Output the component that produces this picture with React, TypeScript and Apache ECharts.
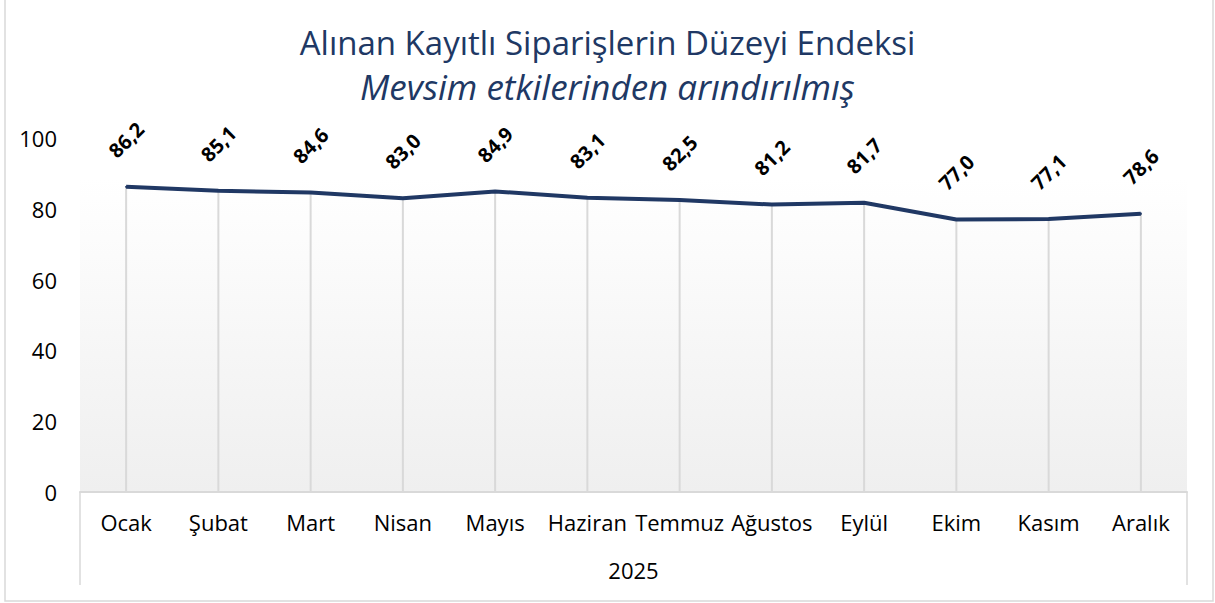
import React, { useEffect, useRef } from "react";
import * as echarts from "echarts";

const categories = ["Ocak", "Şubat", "Mart", "Nisan", "Mayıs", "Haziran", "Temmuz", "Ağustos", "Eylül", "Ekim", "Kasım", "Aralık"];
const values = [86.2, 85.1, 84.6, 83.0, 84.9, 83.1, 82.5, 81.2, 81.7, 77.0, 77.1, 78.6];
const yearLabel = "2025";
const titleText = "Alınan Kayıtlı Siparişlerin Düzeyi Endeksi";
const subtitleText = "Mevsim etkilerinden arındırılmış";

const FONT = "'Open Sans', 'Noto Sans', sans-serif";
const NAVY = "#203864";

export default function App() {
  const ref = useRef<HTMLDivElement>(null);
  useEffect(() => {
    if (!ref.current) return;
    const chart = echarts.init(ref.current, undefined, { renderer: "svg" });
    const gridLeft = 80;
    const gridRight = 1187;
    const axisY = 492;
    chart.setOption({
      animation: false,
      backgroundColor: "#ffffff",
      title: [
        {
          text: titleText,
          left: "center",
          top: 21,
          textStyle: { fontFamily: FONT, fontSize: 33, fontWeight: "normal", color: NAVY },
        },
        {
          text: subtitleText,
          left: "center",
          top: 64,
          textStyle: { fontFamily: FONT, fontSize: 35, fontWeight: "normal", fontStyle: "italic", color: NAVY },
        },
      ],
      grid: { left: gridLeft, right: 1215 - gridRight, top: 138, bottom: 603 - axisY, containLabel: false },
      xAxis: {
        type: "category",
        data: categories,
        boundaryGap: true,
        axisLine: { show: true, lineStyle: { color: "#d9d9d9", width: 2 } },
        axisTick: { show: false },
        axisLabel: { interval: 0, margin: 19, fontFamily: FONT, fontSize: 22, color: "#000000" },
        splitLine: { show: false },
        z: 5,
      },
      yAxis: {
        type: "value",
        min: 0,
        max: 100,
        interval: 20,
        axisLine: { show: false },
        axisTick: { show: false },
        splitLine: { show: false },
        axisLabel: { margin: 23, fontFamily: FONT, fontSize: 22, color: "#000000" },
      },
      graphic: [
        {
          type: "rect",
          shape: { x: 5, y: -2, width: 1208, height: 603 },
          style: { fill: "none", stroke: "#d9d9d9", lineWidth: 1.5 },
          silent: true,
          z: -10,
        },
        {
          type: "rect",
          shape: { x: gridLeft, y: 178, width: gridRight - gridLeft, height: axisY - 178 },
          style: {
            fill: new echarts.graphic.LinearGradient(0, 0, 0, 1, [
              { offset: 0, color: "#ffffff" },
              { offset: 1, color: "#efefef" },
            ]),
          },
          silent: true,
          z: -5,
        },
        {
          type: "line",
          shape: { x1: gridLeft, y1: axisY, x2: gridLeft, y2: 585 },
          style: { stroke: "#d9d9d9", lineWidth: 1.5 },
          silent: true,
        },
        {
          type: "line",
          shape: { x1: gridRight, y1: axisY, x2: gridRight, y2: 585 },
          style: { stroke: "#d9d9d9", lineWidth: 1.5 },
          silent: true,
        },
        {
          type: "text",
          x: (gridLeft + gridRight) / 2,
          y: 570,
          style: {
            text: yearLabel,
            align: "center",
            verticalAlign: "middle",
            fontFamily: FONT,
            fontSize: 22,
            fill: "#000000",
          },
          silent: true,
        },
      ],
      series: [
        {
          type: "bar",
          data: values,
          barWidth: 2,
          itemStyle: { color: "#d9d9d9" },
          silent: true,
          z: 1,
        },
        {
          type: "line",
          data: values,
          symbol: "circle",
          symbolSize: 2,
          showSymbol: true,
          itemStyle: { color: NAVY },
          lineStyle: { color: NAVY, width: 4 },
          z: 3,
          labelLayout: { hideOverlap: false },
          label: {
            show: true,
            position: "top",
            distance: 46,
            rotate: 45,
            align: "center",
            verticalAlign: "middle",
            offset: [1, 0],
            fontFamily: FONT,
            fontSize: 20,
            fontWeight: "bold",
            color: "#000000",
            formatter: (p: any) => Number(p.value).toFixed(1).replace(".", ","),
          },
        },
      ],
    });
    return () => chart.dispose();
  }, []);
  return <div ref={ref} style={{ position: "fixed", left: 0, top: 0, width: 1215, height: 603 }} />;
}
